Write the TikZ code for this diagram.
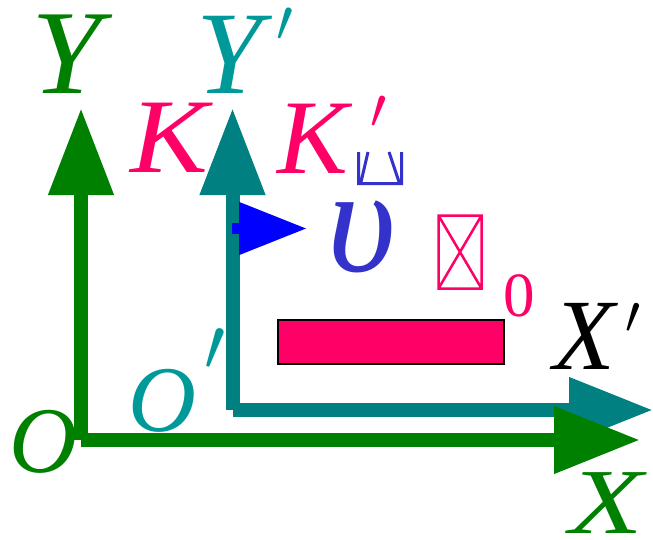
\RequirePackage{fix-cm}
\documentclass[tikz,border=0pt]{standalone}
\usepackage{fontspec}
\setmainfont{Liberation Serif}
\usetikzlibrary{arrows.meta}
\definecolor{axgreen}{HTML}{008000}
\definecolor{axteal}{HTML}{008080}
\definecolor{txteal}{HTML}{009999}
\definecolor{pinkc}{HTML}{FF0066}
\definecolor{bluetxt}{HTML}{3333CC}
\newcommand{\fsz}[1]{\fontsize{#1}{#1}\selectfont}
\newcommand{\primemark}[1]{\fontsize{#1}{#1}\selectfont$\prime$}
\begin{document}
\begin{tikzpicture}[x=1pt,y=-1pt,
  lab/.style={inner sep=0pt, anchor=base west},
  axis/.style={line width=14pt}]
\useasboundingbox (0,0) rectangle (653,539);
% coordinates
\coordinate (O) at (81,440);
\coordinate (Ytip) at (81,108);
\coordinate (Xtip) at (640,440);
\coordinate (O2) at (232.5,410);
\coordinate (Y2tip) at (232.5,108);
\coordinate (X2tip) at (653,410);
\coordinate (vs) at (232,228.5);
\coordinate (vt) at (307,228.5);
% primed frame
\draw[axteal, axis, -{Triangle[length=87pt,width=62pt]}] (O2) -- (Y2tip);
\draw[axteal, axis, -{Triangle[length=84pt,width=62pt]}] (O2) -- (X2tip);
% unprimed frame
\draw[axgreen, axis, -{Triangle[length=87pt,width=62pt]}] (O) -- (Ytip);
\draw[axgreen, axis, -{Triangle[length=86pt,width=64pt]}] (O) -- (Xtip);
% velocity arrow
\draw[blue, line width=11pt, -{Triangle[length=68pt,width=50pt]}] (vs) -- (vt);
% rod
\node[draw=black, fill=pinkc, line width=1.5pt, minimum width=226pt, minimum height=44pt,
      inner sep=0pt, outer sep=0pt, anchor=north west] (bar) at (278,320) {};
% missing-glyph box
\draw[pinkc, line width=2.5pt] (438.5,215.5) rectangle (481.5,288.5)
  (438.5,215.5) -- (481.5,288.5) (481.5,215.5) -- (438.5,288.5);
% subscript glyph fragment
\draw[bluetxt, line width=3pt] (358.5,152) -- (358.5,183.5) -- (401.5,183.5) -- (401.5,152)
  (368,152) -- (361,182) (389,152) -- (399,182);
% labels
\node[lab, text=axgreen, font=\itshape\fsz{120}] (lY) at (31,93) {\scalebox{1.05}[1]{Y}};
\node[lab, text=txteal, font=\itshape\fsz{118}] (lY2) at (196,93) {Y};
\node[lab, text=txteal] (lY2p) at (276.2,41.4) {\primemark{60}};
\node[lab, text=pinkc, font=\itshape\fsz{106}] (lK) at (130,172) {\scalebox{1.1}[1]{K}};
\node[lab, text=pinkc, font=\itshape\fsz{106}] (lK2) at (277,173) {K};
\node[lab, text=pinkc] (lK2p) at (370.3,128.4) {\primemark{58}};
\node[lab, text=axgreen, font=\itshape\fsz{94}] (lO) at (9,472) {O};
\node[lab, text=txteal, font=\itshape\fsz{94}] (lO2) at (128,431) {O};
\node[lab, text=txteal] (lO2p) at (203.8,370.8) {\primemark{75}};
\node[lab, text=black, font=\itshape\fsz{101}] (lX2) at (553,369) {X};
\node[lab, text=black] (lX2p) at (625.4,333.3) {\primemark{54}};
\node[lab, text=axgreen, font=\itshape\fsz{93}] (lX) at (569,533) {\scalebox{1.3}[1]{X}};
\node[lab, text=bluetxt, font=\itshape\fsz{150}] (lv) at (327,271) {υ};
\node[lab, text=pinkc, font=\fsz{63}] (l0) at (503.5,316) {0};
\end{tikzpicture}
\end{document}
